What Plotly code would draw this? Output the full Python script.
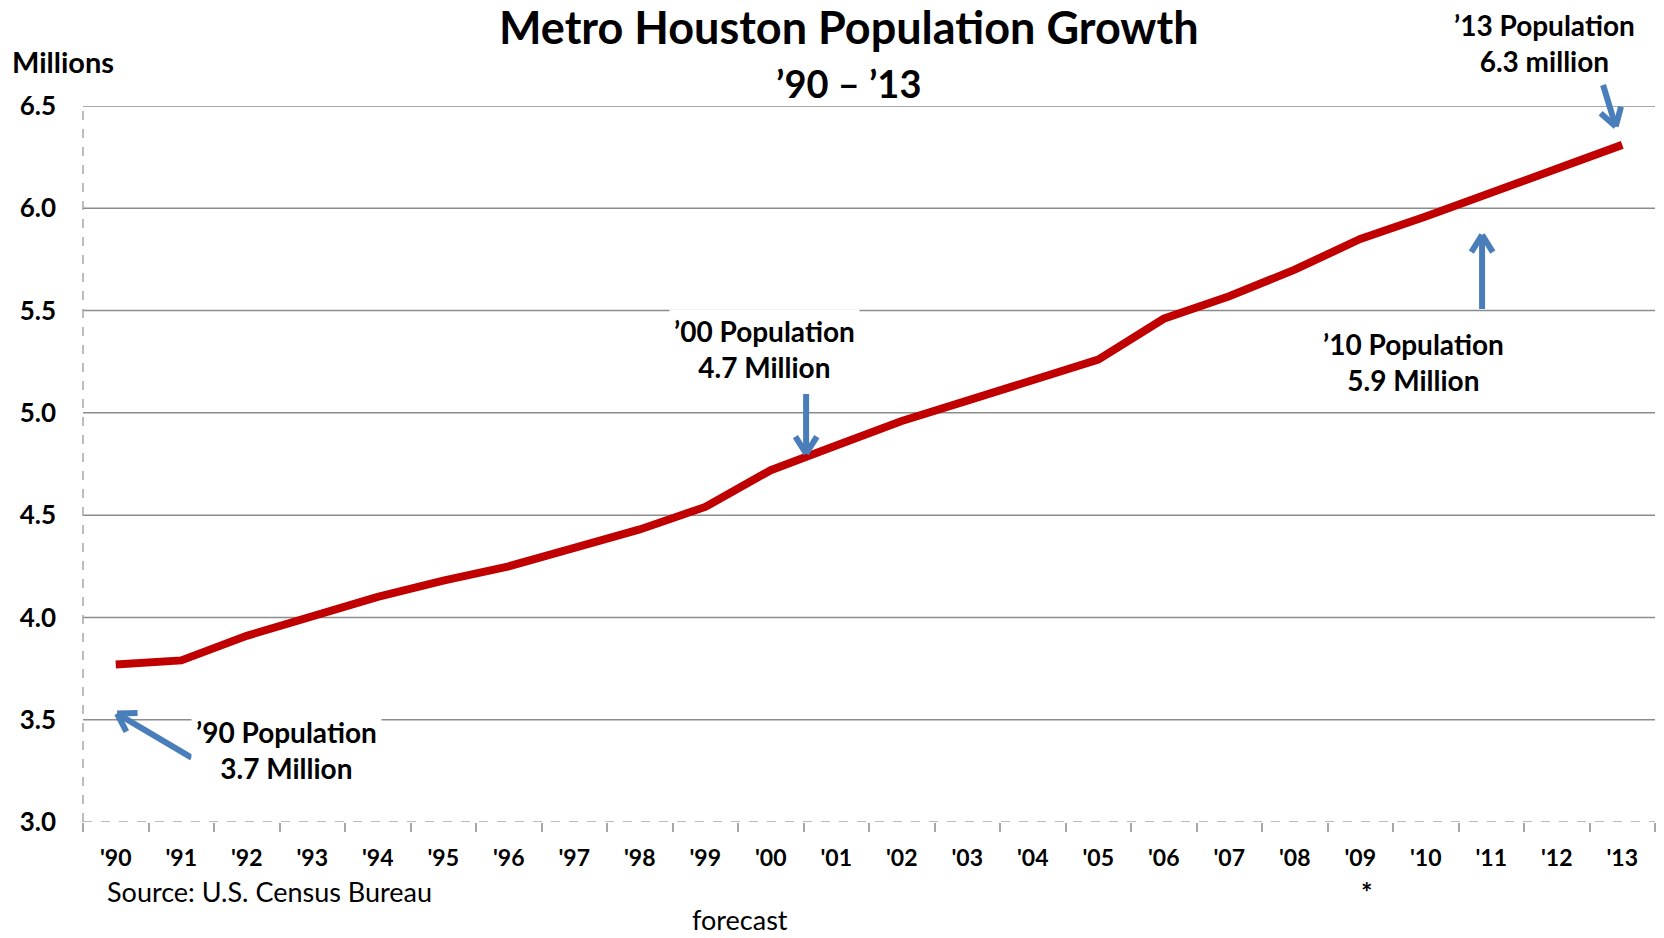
import math
import plotly.graph_objects as go

YEARS = ["'90", "'91", "'92", "'93", "'94", "'95", "'96", "'97", "'98", "'99", "'00", "'01",
         "'02", "'03", "'04", "'05", "'06", "'07", "'08", "'09", "'10", "'11", "'12", "'13"]
POP_MILLIONS = [3.77, 3.79, 3.91, 4.01, 4.10, 4.18, 4.25, 4.34, 4.43, 4.54, 4.72, 4.84,
                4.96, 5.06, 5.16, 5.26, 5.46, 5.57, 5.70, 5.85, 5.96, 6.08, 6.20, 6.31]
Y_TICKS = [3.0, 3.5, 4.0, 4.5, 5.0, 5.5, 6.0, 6.5]

# callouts: text, text position (x index, y), arrow tip (x index, y), arrow tail (x index, y)
CALLOUTS = [
    ("’90 Population<br>3.7 Million", (2.61, 3.35), (0.02, 3.53), (1.18, 3.31)),
    ("’00 Population<br>4.7 Million", (9.91, 5.31), (10.54, 4.80), (10.54, 5.10)),
    ("’10 Population<br>5.9 Million", (19.82, 5.25), (20.86, 5.87), (20.86, 5.50)),
    ("’13 Population<br>6.3 million", (21.81, 6.81), (22.90, 6.40), (22.70, 6.61)),
]

FONT = "Lato, 'Open Sans', sans-serif"
GRID = "#8c8c8c"
AXIS = "#a6a6a6"
ARROW = "#4a7ebb"

W, H = 1664, 938
ML, MR, MT, MB = 83, 9, 106, 116
XR = [-0.5, len(YEARS) - 0.5]
YR = [Y_TICKS[0], Y_TICKS[-1]]
PX_X = (W - ML - MR) / (XR[1] - XR[0])
PX_Y = (H - MT - MB) / (YR[1] - YR[0])


def ydom(v):
    return (v - YR[0]) / (YR[1] - YR[0])


def ypix(py):
    # pixel row (from top of page) -> y domain fraction
    return (H - MB - py) / (H - MT - MB)


fig = go.Figure()
fig.add_trace(go.Scatter(
    x=YEARS, y=POP_MILLIONS, mode="lines",
    line=dict(color="#c00000", width=8, shape="linear"),
    hoverinfo="skip", showlegend=False,
))

shapes = []
for v in Y_TICKS[1:]:
    shapes.append(dict(type="line", xref="x domain", yref="y", x0=0, x1=1, y0=v, y1=v,
                       line=dict(color=GRID, width=1.5), layer="below"))
shapes.append(dict(type="line", xref="x domain", yref="y", x0=0, x1=1, y0=Y_TICKS[0], y1=Y_TICKS[0],
                   line=dict(color=AXIS, width=1.5, dash="dash"), layer="above"))
shapes.append(dict(type="line", xref="x domain", yref="y domain", x0=0, x1=0, y0=0, y1=1,
                   line=dict(color=AXIS, width=1.5, dash="dash"), layer="above"))


def seg(x0, y0, x1, y1):
    return dict(x=x1, y=y1, ax=x0, ay=y0, xref="x", yref="y", axref="x", ayref="y",
                text="", showarrow=True, arrowhead=0, arrowwidth=6, arrowcolor=ARROW,
                standoff=0, startstandoff=0)


annotations = []
WING_LEN, WING_ANG = 22, math.radians(32)
for text, (tx, ty), (hx, hy), (sx, sy) in CALLOUTS:
    annotations.append(seg(sx, sy, hx, hy))
    dx, dy = (hx - sx) * PX_X, (hy - sy) * PX_Y
    n = math.hypot(dx, dy)
    ux, uy = dx / n, dy / n
    for s in (1, -1):
        c, si = math.cos(s * WING_ANG), math.sin(s * WING_ANG)
        rx, ry = ux * c - uy * si, ux * si + uy * c
        wx = hx - rx * WING_LEN / PX_X
        wy = hy - ry * WING_LEN / PX_Y
        annotations.append(seg(wx, wy, hx, hy))
    annotations.append(dict(x=tx, y=ydom(ty), xref="x", yref="y domain", text=text, showarrow=False,
                            font=dict(family=FONT, size=28, color="black", weight="bold"),
                            bgcolor="white", borderpad=4, xanchor="center", yanchor="middle"))

annotations += [
    dict(x=0.487, y=1.110, xref="x domain", yref="y domain", text="Metro Houston Population Growth",
         showarrow=False, font=dict(family=FONT, size=45, color="black", weight="bold"),
         xanchor="center", yanchor="middle"),
    dict(x=0.487, y=1.032, xref="x domain", yref="y domain", text="’90 – ’13", showarrow=False,
         font=dict(family=FONT, size=38, color="black", weight="bold"),
         xanchor="center", yanchor="middle"),
    dict(x=-0.0465, y=1.062, xref="x domain", yref="y domain", text="Millions", showarrow=False,
         font=dict(family=FONT, size=29, color="black", weight="bold"),
         xanchor="left", yanchor="middle"),
    dict(x=0.0146, y=ypix(874), xref="x domain", yref="y domain", text="Source: U.S. Census Bureau",
         showarrow=False, font=dict(family=FONT, size=27, color="black"),
         xanchor="left", yanchor="top", borderpad=0),
    dict(x=0.418, y=ypix(937), xref="x domain", yref="y domain", text="forecast",
         showarrow=False, font=dict(family=FONT, size=27, color="black"),
         xanchor="center", yanchor="bottom", borderpad=0),
    dict(x=YEARS.index("'09") + 0.1, y=ypix(874), xref="x", yref="y domain", text="*",
         showarrow=False, font=dict(family=FONT, size=27, color="black", weight="bold"),
         xanchor="center", yanchor="top", borderpad=0),
]

fig.update_layout(
    width=W, height=H,
    margin=dict(l=ML, r=MR, t=MT, b=MB),
    paper_bgcolor="white", plot_bgcolor="white",
    shapes=shapes, annotations=annotations,
    xaxis=dict(type="category", range=XR, tickson="boundaries",
               ticks="outside", ticklen=9, tickwidth=1.5, tickcolor=AXIS,
               showgrid=False, zeroline=False, showline=False, ticklabelstandoff=20,
               tickfont=dict(family=FONT, size=23, color="black", weight="bold")),
    yaxis=dict(range=YR, tickvals=Y_TICKS, tickformat=".1f",
               showgrid=False, zeroline=False, showline=False, ticks="",
               ticklabelstandoff=26,
               tickfont=dict(family=FONT, size=26, color="black", weight="bold")),
)

fig.write_html("out.html")
